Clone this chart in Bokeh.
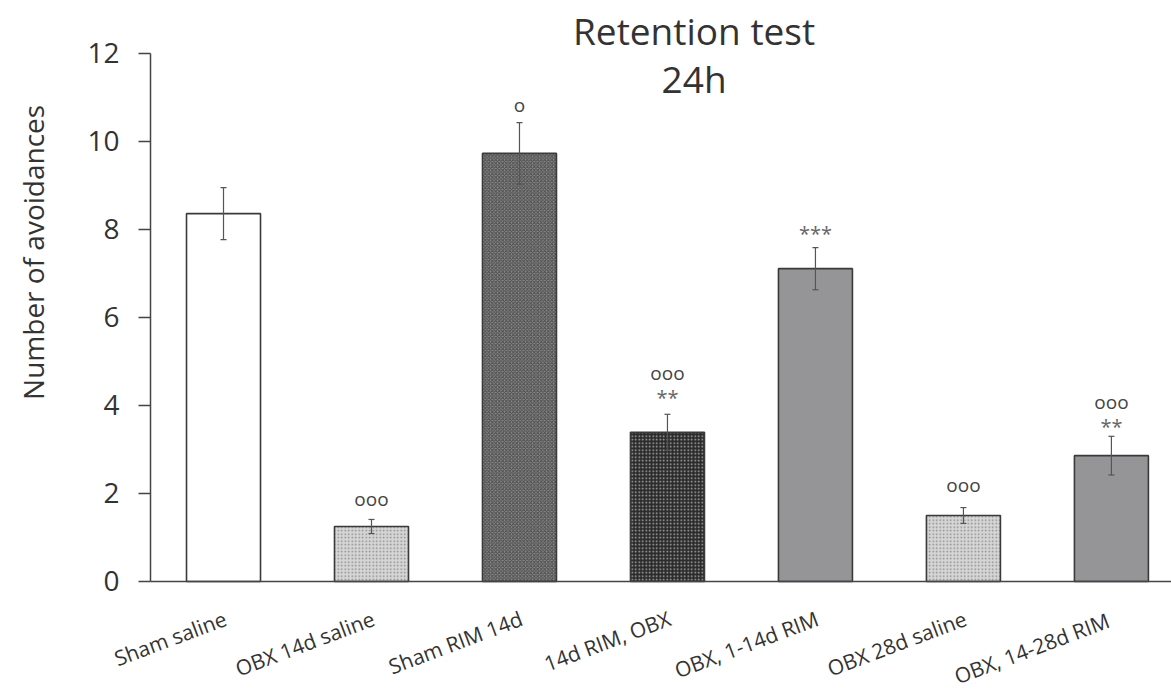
import math
from bokeh.plotting import figure
from bokeh.models import ColumnDataSource, Whisker, TeeHead, FixedTicker, Range1d
from bokeh.core.properties import value
from bokeh.embed import file_html
from bokeh.resources import INLINE

# ---- data ----
groups = ["Sham saline", "OBX 14d saline", "Sham RIM 14d", "14d RIM, OBX",
          "OBX, 1-14d RIM", "OBX 28d saline", "OBX, 14-28d  RIM"]
means = [8.36, 1.25, 9.73, 3.39, 7.11, 1.50, 2.86]
sems = [0.59, 0.16, 0.70, 0.41, 0.48, 0.18, 0.44]

# significance marks: (group index, y position of mark centre, text)
mark_idx = [1, 2, 3, 3, 4, 5, 6, 6]
mark_y = [1.84, 10.80, 4.70, 4.27, 8.00, 2.16, 4.05, 3.61]
mark_txt = ["ooo", "o", "ooo", "**", "***", "ooo", "ooo", "**"]

title_lines = ["Retention test", "24h"]
title_y = [12.18, 11.09]
title_x = 3.18

y_title = "Number of avoidances"
y_title_pos = (-1.29, 7.48)

y_ticks = [0, 2, 4, 6, 8, 10, 12]

# ---- styles (per bar) ----
fills = ["#ffffff", "#d6d6d6", "#8a8a8a", "#2b2b2b", "#959597", "#d6d6d6", "#959597"]
hatches = [" ", ".", "x", ".", " ", ".", " "]
hatch_cols = ["#ffffff", "#8a8a8a", "#4a4a4a", "#b0b0b0", "#959597", "#8a8a8a", "#959597"]

X0 = -0.493          # left end of the category axis (where the y axis sits)
x = list(range(len(groups)))
src = ColumnDataSource(dict(
    x=x, top=means,
    upper=[m + s for m, s in zip(means, sems)],
    lower=[m - s for m, s in zip(means, sems)],
    fill=fills, hatch=hatches, hcol=hatch_cols,
))

p = figure(width=1171, height=691, output_backend="svg", toolbar_location=None,
           x_range=Range1d(-1.507, 6.406), y_range=Range1d(-2.5, 13.2045),
           min_border=0)
p.outline_line_color = None
p.xgrid.visible = False
p.ygrid.visible = False
p.background_fill_color = "white"
p.border_fill_color = "white"

p.vbar(x="x", top="top", width=0.5, bottom=0, source=src,
       fill_color="fill", line_color="#3a3a3a", line_width=1.6,
       hatch_pattern="hatch", hatch_color="hcol", hatch_scale=3.5, hatch_weight=1)

w = Whisker(source=src, base="x", upper="upper", lower="lower",
            line_color="#555555", line_width=1.2, level="overlay",
            upper_head=TeeHead(size=6, line_color="#555555", line_width=1.2),
            lower_head=TeeHead(size=6, line_color="#555555", line_width=1.2))
p.add_layout(w)

# significance marks
ms = ColumnDataSource(dict(x=mark_idx, y=mark_y, t=mark_txt,
                           yo=[(-1.5 if "o" in t else 4) for t in mark_txt],
                           c=[("#444444" if "o" in t else "#666666") for t in mark_txt],
                           fs=[("19px" if "o" in t else "20px") for t in mark_txt]))
p.text(x="x", y="y", text="t", source=ms, text_align="center", text_baseline="middle",
       text_font=value("Open Sans"), text_font_size="fs", text_color="c", y_offset="yo")

# title
p.text(x=[title_x, title_x], y=title_y, text=title_lines, text_align="center",
       text_baseline="alphabetic", y_offset=-15, text_font=value("Open Sans"),
       text_font_size="37px", text_color="#333333")

# y axis title
p.text(x=[y_title_pos[0]], y=[y_title_pos[1]], text=[y_title], angle=math.pi / 2,
       text_align="center", text_baseline="middle", text_font=value("Open Sans"),
       text_font_size="28px", text_color="#333333")

# category labels under the axis
p.text(x=x, y=[0] * len(x), text=groups, angle=0.36, text_align="right",
       text_baseline="middle", x_offset=2, y_offset=36, text_font=value("Open Sans"),
       text_font_size="21px", text_color="#333333")

# y axis
ya = p.yaxis[0]
ya.fixed_location = X0
ya.ticker = FixedTicker(ticks=y_ticks)
ya.bounds = (0, 12)
ya.axis_line_color = "#444444"
ya.axis_line_width = 1.5
ya.major_tick_line_color = "#444444"
ya.major_tick_line_width = 1.5
ya.major_tick_out = 12
ya.major_tick_in = 0
ya.minor_tick_line_color = None
ya.major_label_standoff = 19
ya.major_label_text_font = "Open Sans"
ya.major_label_text_font_size = "28px"
ya.major_label_text_color = "#333333"

# x axis: just the baseline at y = 0
xa = p.xaxis[0]
xa.fixed_location = 0
xa.ticker = FixedTicker(ticks=[])
xa.bounds = (X0, 6.406)
xa.axis_line_color = "#444444"
xa.axis_line_width = 1.5
xa.major_tick_line_color = None
xa.minor_tick_line_color = None

open("out.html", "w").write(file_html(p, INLINE))
